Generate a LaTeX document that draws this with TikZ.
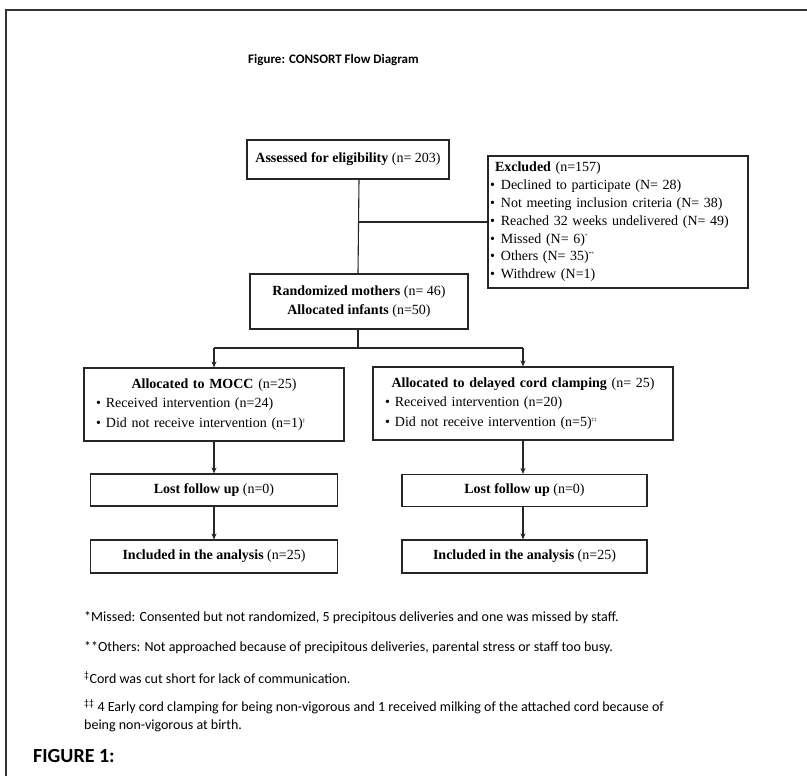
\documentclass[tikz,border=0pt]{standalone}
\usepackage{fontspec}
\setmainfont{Liberation Serif}
\newfontfamily\notefont{Carlito}
\usetikzlibrary{arrows.meta,positioning}

\begin{document}
\begin{tikzpicture}[
  x=1pt, y=-1pt,
  font=\fontsize{14}{19.5}\selectfont,
  >={Stealth[length=6pt,width=5pt]},
  flowbox/.style={rectangle, draw=black!85, line width=1.1pt, inner sep=2pt, align=center},
  listbox/.style={rectangle, draw=black!85, line width=1.1pt, inner xsep=2pt, align=left},
  link/.style={draw=black!85, line width=1.1pt},
  arrow/.style={link, ->},
  note/.style={anchor=west, inner sep=0pt, font=\notefont\fontsize{14}{16}\selectfont}
]
\useasboundingbox (0,0) rectangle (807,776);
% --- outer frame ---
\draw[line width=1.5pt, black!80] (6,776) -- (6,10) -- (807,10);

\node[anchor=west, inner sep=0pt, font=\notefont\bfseries\fontsize{13}{15}\selectfont] (title) at (248,60)
  {Figure: CONSORT Flow Diagram};

% --- enrolment ---
\node[flowbox, minimum width=202pt, minimum height=39pt] (assess) at (348,159.5)
  {\textbf{Assessed for eligibility} (n= 203)};

\node[listbox, minimum width=260pt, minimum height=132pt, text width=256pt,
      font=\fontsize{14}{17.8}\selectfont] (excl) at (618,222)
  {\hspace*{5pt}\textbf{Excluded} (n=157)\\
   \textbullet\hspace{6pt}Declined to participate (N= 28)\\
   \textbullet\hspace{6pt}Not meeting inclusion criteria (N= 38)\\
   \textbullet\hspace{6pt}Reached 32 weeks undelivered (N= 49)\\
   \textbullet\hspace{6pt}Missed (N= 6)\textsuperscript{\tiny *}\\
   \textbullet\hspace{6pt}Others (N= 35)\textsuperscript{\tiny **}\\
   \textbullet\hspace{6pt}Withdrew (N=1)};

\node[flowbox, minimum width=218pt, minimum height=55pt] (rand) at (359,301.5)
  {\textbf{Randomized mothers} (n= 46)\\ \textbf{Allocated infants} (n=50)};

% --- allocation ---
\node[listbox, minimum width=260pt, minimum height=73pt, text width=256pt] (mocc) at (214,404.5)
  {\makebox[\linewidth]{\textbf{Allocated to MOCC} (n=25)}\\
   \hspace*{10pt}\textbullet\hspace{5pt}Received intervention (n=24)\\
   \hspace*{10pt}\textbullet\hspace{5pt}Did not receive intervention (n=1)\textsuperscript{\tiny\textdaggerdbl}};

\node[listbox, minimum width=300pt, minimum height=73pt, text width=296pt] (dcc) at (523,403.5)
  {\makebox[\linewidth]{\textbf{Allocated to delayed cord clamping} (n= 25)}\\
   \hspace*{10pt}\textbullet\hspace{5pt}Received intervention (n=20)\\
   \hspace*{10pt}\textbullet\hspace{5pt}Did not receive intervention (n=5)\textsuperscript{\tiny\textdaggerdbl\textdaggerdbl}};

% --- follow up and analysis ---
\node[flowbox, minimum width=247pt, minimum height=32pt] (lostL) at (214,490) {\textbf{Lost follow up} (n=0)};
\node[flowbox, minimum width=247pt, minimum height=33pt] (inclL) at (214,556.5) {\textbf{Included in the analysis} (n=25)};
\node[flowbox, minimum width=245pt, minimum height=32pt] (lostR) at (524.5,490.5) {\textbf{Lost follow up} (n=0)};
\node[flowbox, minimum width=245pt, minimum height=33pt] (inclR) at (524.5,556.5) {\textbf{Included in the analysis} (n=25)};

% --- connectors ---
\coordinate (split) at (358,348);
\coordinate (leftbr) at (214,348);
\coordinate (rightbr) at (523,348);
\draw[link] (rand.north |- assess.south) -- (rand.north -| split);
\draw[link] (split |- excl.west) -- (excl.west);
\draw[link] (rand.south -| split) -- (split);
\draw[link] (leftbr) -- (rightbr);
\draw[arrow] (leftbr) -- (mocc.north);
\draw[arrow] (rightbr) -- (dcc.north);
\draw[arrow] (mocc.south) -- (lostL.north);
\draw[arrow] (lostL.south) -- (inclL.north);
\draw[arrow] (dcc.south) -- (dcc.south |- lostR.north);
\draw[arrow] (dcc.south |- lostR.south) -- (dcc.south |- inclR.north);

% --- footnotes ---
\node[note] (fn1) at (84,618) {*Missed: Consented but not randomized, 5 precipitous deliveries and one was missed by staff.};
\node[note] (fn2) at (84,648) {**Others: Not approached because of precipitous deliveries, parental stress or staff too busy.};
\node[note] (fn3) at (84,678) {\textsuperscript{\textdaggerdbl}Cord was cut short for lack of communication.};
\node[note] (fn4) at (84,707) {\textsuperscript{\textdaggerdbl\textdaggerdbl} 4 Early cord clamping for being non-vigorous and 1 received milking of the attached cord because of};
\node[note] (fn5) at (84,726) {being non-vigorous at birth.};

\node[anchor=west, inner sep=0pt, font=\notefont\bfseries\fontsize{20}{22}\selectfont] (figlabel) at (33,756) {FIGURE 1:};
\end{tikzpicture}
\end{document}
